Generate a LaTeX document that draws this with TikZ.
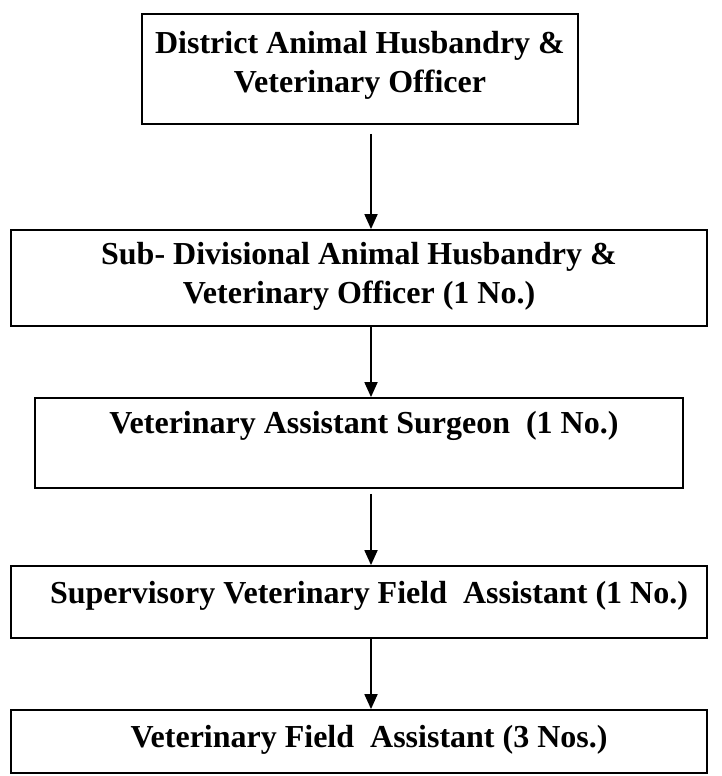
\documentclass[tikz,border=0pt]{standalone}
\usepackage{fontspec}
\setmainfont{Liberation Serif}
\usetikzlibrary{arrows.meta,calc}
\begin{document}
\begin{tikzpicture}[x=1pt,y=-1pt,
  box/.style={draw=black,line width=1.8pt,rectangle,inner sep=0pt,anchor=center},
  txt/.style={font=\fontsize{32}{39}\selectfont\bfseries,align=center,inner sep=0pt},
  arr/.style={draw=black,line width=1.8pt,-{Triangle[length=15pt,width=13pt]}}]
\useasboundingbox (0,0) rectangle (721,776);
\node[box,minimum width=436pt,minimum height=110pt,
  label={[txt,yshift=4pt]center:District Animal Husbandry \&\\Veterinary Officer}] (b1) at (360,69) {};
\node[box,minimum width=696pt,minimum height=96pt,
  label={[txt,yshift=2pt]center:Sub- Divisional Animal Husbandry \&\\Veterinary Officer (1 No.)}] (b2) at (359,278) {};
\node[box,minimum width=648pt,minimum height=90pt,
  label={[txt,yshift=17pt,xshift=5pt]center:Veterinary Assistant Surgeon~~(1 No.)}] (b3) at (359,443) {};
\node[box,minimum width=696pt,minimum height=72pt,
  label={[txt,yshift=6pt,xshift=10pt]center:Supervisory Veterinary Field~~Assistant (1 No.)}] (b4) at (359,602) {};
\node[box,minimum width=696pt,minimum height=63pt,
  label={[txt,yshift=2pt,xshift=10pt]center:Veterinary Field~~Assistant (3 Nos.)}] (b5) at (359,741.5) {};
\coordinate (ax) at (371,0);
\draw[arr] ($(b1.south -| ax)+(0,9)$) -- (b2.north -| ax);
\draw[arr] (b2.south -| ax) -- (b3.north -| ax);
\draw[arr] ($(b3.south -| ax)+(0,5)$) -- (b4.north -| ax);
\draw[arr] (b4.south -| ax) -- (b5.north -| ax);
\end{tikzpicture}
\end{document}
